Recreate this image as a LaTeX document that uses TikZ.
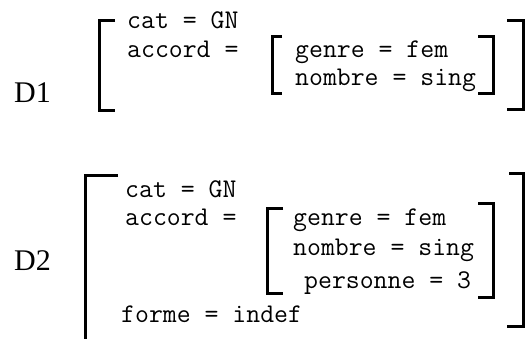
\documentclass[tikz,border=0pt]{standalone}
\usepackage{fontspec}
\setmainfont{Liberation Serif}
\begin{document}
\begin{tikzpicture}[x=1pt,y=-1pt,
  br/.style={line width=3pt,line cap=butt,line join=miter},
  feat/.style={anchor=base west,inner sep=0pt,font=\fontsize{27}{30}\selectfont\ttfamily},
  lab/.style={anchor=base west,inner sep=0pt,font=\fontsize{30}{34}\selectfont}]
\useasboundingbox (0,0) rectangle (528,338);
% D1
\node[lab] (d1) at (14,102) {D1};
\node[feat] (c1) at (127,28) {cat = GN};
\node[feat] (a1) at (127,57) {accord =};
\node[feat] (g1) at (295,57) {genre = fem};
\node[feat] (n1) at (295,85) {nombre = sing};
\draw[br] (115,20) -- (99,20) -- (99,110) -- (115,110);
\draw[br] (507,20) -- (523,20) -- (523,109) -- (507,109);
\draw[br] (282,36) -- (272,36) -- (272,93) -- (282,93);
\draw[br] (478,36) -- (493,36) -- (493,93) -- (478,93);
% D2
\node[lab] (d2) at (14,270) {D2};
\node[feat] (c2) at (125,197) {cat = GN};
\node[feat] (a2) at (125,225) {accord =};
\node[feat] (g2) at (293,225) {genre = fem};
\node[feat] (n2) at (293,255) {nombre = sing};
\node[feat] (p2) at (304,288) {personne = 3};
\node[feat] (f2) at (121,322) {forme = indef};
\draw[br] (118,175) -- (85,175) -- (85,340);
\draw[br] (509,173) -- (523,173) -- (523,326) -- (507,326);
\draw[br] (283,208) -- (267,208) -- (267,293) -- (283,293);
\draw[br] (478,203) -- (493,203) -- (493,297) -- (478,297);
\end{tikzpicture}
\end{document}
